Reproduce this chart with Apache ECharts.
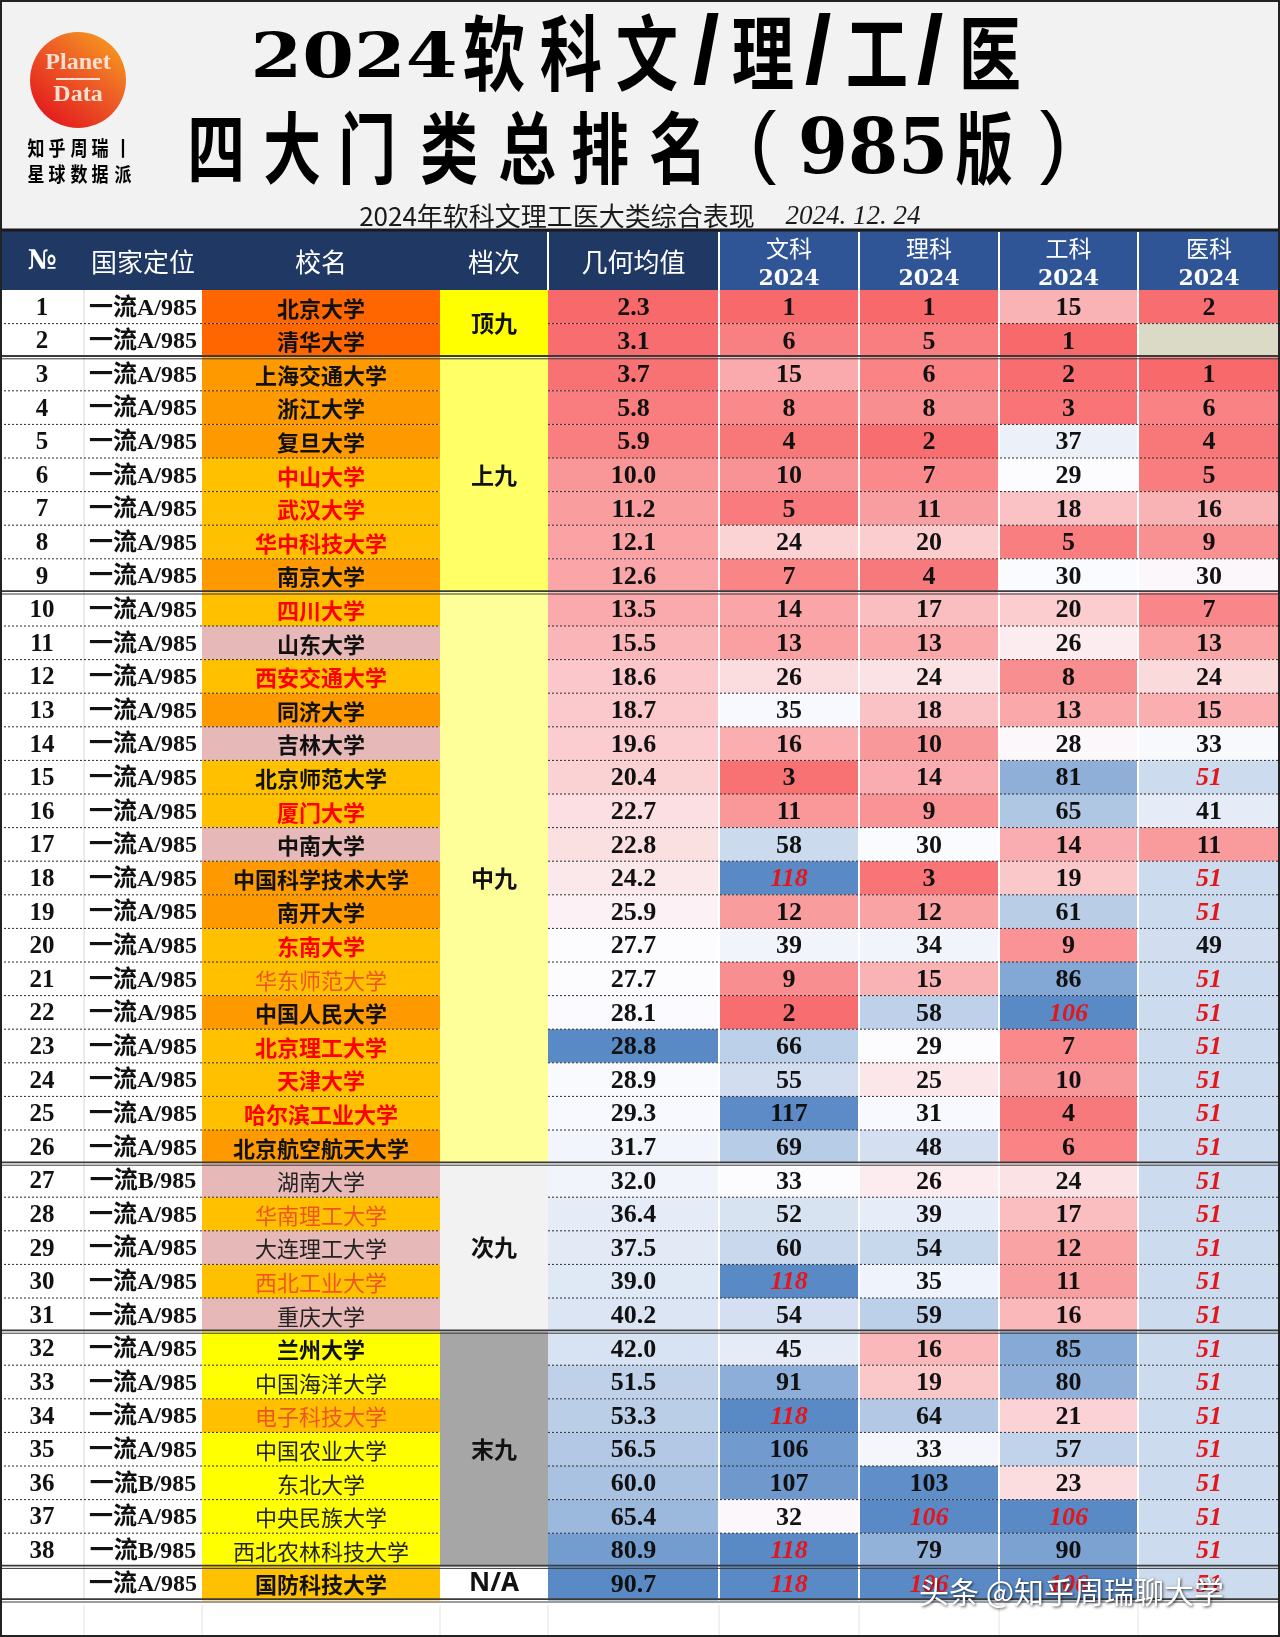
<!DOCTYPE html>
<html>
<head>
<meta charset="utf-8">
<script src="https://cdn.jsdelivr.net/npm/echarts@6/dist/echarts.min.js"></script>
<style>html,body{margin:0;padding:0;background:#fff}#c{width:1280px;height:1637px}</style>
</head>
<body>
<div id="c"></div>
<script>
// ---------------- DATA ----------------
const columnTitles = ['№', '国家定位', '校名', '档次', '几何均值', '文科', '理科', '工科', '医科'];
const subjectYear = '2024';
const titleLine1 = '2024软科文/理/工/医';
const titleLine2 = '四大门类总排名（985版）';
const subtitle = '2024年软科文理工医大类综合表现';
const subtitleDate = '2024. 12. 24';

const rowNo = ['1','2','3','4','5','6','7','8','9','10','11','12','13','14','15','16','17','18','19','20',
  '21','22','23','24','25','26','27','28','29','30','31','32','33','34','35','36','37','38',''];
const positioning = ['一流A/985','一流A/985','一流A/985','一流A/985','一流A/985','一流A/985','一流A/985','一流A/985','一流A/985',
  '一流A/985','一流A/985','一流A/985','一流A/985','一流A/985','一流A/985','一流A/985','一流A/985','一流A/985','一流A/985',
  '一流A/985','一流A/985','一流A/985','一流A/985','一流A/985','一流A/985','一流A/985',
  '一流B/985','一流A/985','一流A/985','一流A/985','一流A/985',
  '一流A/985','一流A/985','一流A/985','一流A/985','一流B/985','一流A/985','一流B/985','一流A/985'];
const schools = ['北京大学','清华大学','上海交通大学','浙江大学','复旦大学','中山大学','武汉大学','华中科技大学','南京大学',
  '四川大学','山东大学','西安交通大学','同济大学','吉林大学','北京师范大学','厦门大学','中南大学','中国科学技术大学','南开大学',
  '东南大学','华东师范大学','中国人民大学','北京理工大学','天津大学','哈尔滨工业大学','北京航空航天大学',
  '湖南大学','华南理工大学','大连理工大学','西北工业大学','重庆大学',
  '兰州大学','中国海洋大学','电子科技大学','中国农业大学','东北大学','中央民族大学','西北农林科技大学','国防科技大学'];
const schoolClass = ['deep','deep','orange','orange','orange','goldRed','goldRed','goldRed','orange',
  'goldRed','pinkBold','goldRed','orange','pinkBold','gold','goldRed','pinkBold','orange','orange',
  'goldRed','goldThin','orange','goldRed','goldRed','goldRed','orange',
  'pink','goldThin','pink','goldThin','pink',
  'yellowBold','yellow','goldThin','yellow','yellow','yellow','yellow','gold'];
const tierNames = ['顶九','上九','中九','次九','末九','N/A'];
const tierSizes = [2, 7, 17, 5, 7, 1];

const geoMean = [2.3,3.1,3.7,5.8,5.9,10.0,11.2,12.1,12.6,13.5,15.5,18.6,18.7,19.6,20.4,22.7,22.8,24.2,25.9,27.7,
  27.7,28.1,28.8,28.9,29.3,31.7,32.0,36.4,37.5,39.0,40.2,42.0,51.5,53.3,56.5,60.0,65.4,80.9,90.7];
const wenke = [1,6,15,8,4,10,5,24,7,14,13,26,35,16,3,11,58,118,12,39,9,2,66,55,117,69,33,52,60,118,54,45,91,118,106,107,32,118,118];
const like  = [1,5,6,8,2,7,11,20,4,17,13,24,18,10,14,9,30,3,12,34,15,58,29,25,31,48,26,39,54,35,59,16,19,64,33,103,106,79,106];
const gongke= [15,1,2,3,37,29,18,5,30,20,26,8,13,28,81,65,14,19,61,9,86,106,7,10,4,6,24,17,12,11,16,85,80,21,57,23,106,90,106];
const yike  = [2,null,1,6,4,5,16,9,30,7,13,24,15,33,51,41,11,51,51,49,51,51,51,51,51,51,51,51,51,51,51,51,51,51,51,51,51,51,51];
// placeholder rank shown in red italic for each subject column (文/理/工/医)
const unrankedValue = [118, 106, 106, 51];
// colour scale domains [low, mid, high] for 几何均值, 文科, 理科, 工科, 医科
const colorDomain = [[2.3, 27.7, 90.7], [1, 33, 118], [1, 29, 106], [1, 29, 106], [1, 31, 100]];
// manually highlighted cell: [row index, column index]
const highlightCells = [[22, 4]];

// ---------------- LAYOUT / STYLE ----------------
const W = 1280, H = 1637;
const COL_EDGES = [0, 84, 202, 440, 548, 719, 859, 999, 1138, 1280];
const BODY_TOP = 290, ROW_H = 33.6;
const nRows = schools.length;
const subjectCols = [wenke, like, gongke, yike];
const groupEnds = []; { let a = 0; tierSizes.forEach(s => { a += s; groupEnds.push(a - 1); }); }
const tierRanges = []; { let a = 0; tierSizes.forEach((s, i) => { tierRanges.push([a, a + s - 1, i]); a += s; }); }

const nameStyles = {
  deep:      { bg: '#FF6600', fill: '#111', weight: 'bold' },
  orange:    { bg: '#FF9900', fill: '#111', weight: 'bold' },
  goldRed:   { bg: '#FFC000', fill: '#FF0000', weight: 'bold' },
  gold:      { bg: '#FFC000', fill: '#111', weight: 'bold' },
  goldThin:  { bg: '#FFC000', fill: '#EE5522', weight: 'normal' },
  pinkBold:  { bg: '#E6B8B7', fill: '#111', weight: 'bold' },
  pink:      { bg: '#E6B8B7', fill: '#222', weight: 'normal' },
  yellowBold:{ bg: '#FFFF00', fill: '#111', weight: 'bold' },
  yellow:    { bg: '#FFFF00', fill: '#222', weight: 'normal' }
};
const tierColors = ['#FFFF00', '#FFFF66', '#FFFF99', '#F2F2F2', '#A6A6A6', '#FFFFFF'];
const HEAT = ['#F8696B', '#FCFCFF', '#5A8AC6'];
const SERIF = "'Liberation Serif','Noto Sans CJK SC',serif";
const CJK = "'Noto Sans CJK SC',sans-serif";

function hex2rgb(h) { return [1, 3, 5].map(i => parseInt(h.substr(i, 2), 16)); }
function mix(a, b, t) {
  const A = hex2rgb(a), B = hex2rgb(b);
  return 'rgb(' + A.map((v, i) => Math.round(v + (B[i] - v) * t)).join(',') + ')';
}
function heatColor(v, dom) {
  if (v == null) return '#DADAC6';
  const [lo, mid, hi] = dom;
  if (v <= mid) return mix(HEAT[0], HEAT[1], Math.max(0, Math.min(1, (v - lo) / (mid - lo))));
  return mix(HEAT[1], HEAT[2], Math.max(0, Math.min(1, (v - mid) / (hi - mid))));
}

// ---------------- SERIES DATA ----------------
const cellData = [];
for (let r = 0; r < nRows; r++) for (const c of [0, 1, 2, 4, 5, 6, 7, 8]) cellData.push([c, r]);
const lineData = []; for (let r = 0; r < nRows; r++) lineData.push([0, r]);
const vlineData = [[1, 0], [5, 0], [6, 0], [7, 0], [8, 0]];

function cellBox(api, c, r) {
  const xL = api.coord([COL_EDGES[c], r])[0];
  const xR = api.coord([COL_EDGES[c + 1], r])[0];
  const yc = api.coord([0, r])[1];
  const h = api.size([0, 1])[1];
  return { xL, xR, yc, h, yT: yc - h / 2 };
}

function renderCell(params, api) {
  const c = api.value(0), r = api.value(1);
  const b = cellBox(api, c, r);
  let bg = '#FFFFFF', text = '', fill = '#111', ff = SERIF, fs = 25, fw = 'bold', fst = 'normal';
  if (c === 0) { text = rowNo[r]; }
  else if (c === 1) { text = positioning[r]; fs = 24; }
  else if (c === 2) {
    const s = nameStyles[schoolClass[r]];
    bg = s.bg; fill = s.fill; fw = s.weight; text = schools[r]; ff = CJK; fs = 22;
  } else if (c === 4) {
    const v = geoMean[r];
    text = v.toFixed(1);
    bg = highlightCells.some(h => h[0] === r && h[1] === c) ? HEAT[2] : heatColor(v, colorDomain[0]);
    fs = 26;
  } else {
    const k = c - 5, v = subjectCols[k][r];
    bg = heatColor(v, colorDomain[k + 1]);
    text = v == null ? '' : String(v);
    fs = 26;
    if (v === unrankedValue[k]) { fill = '#E3161C'; fst = 'italic'; }
  }
  const children = [{ type: 'rect', shape: { x: b.xL, y: b.yT, width: b.xR - b.xL, height: b.h }, style: { fill: bg } }];
  if (text) children.push({
    type: 'text',
    style: { text, x: (b.xL + b.xR) / 2, y: b.yc + 1.5, align: 'center', verticalAlign: 'middle',
      fill, fontFamily: ff, fontSize: fs, fontWeight: fw, fontStyle: fst }
  });
  return { type: 'group', children };
}

function renderTier(params, api) {
  const r0 = api.value(0), r1 = api.value(1), i = api.value(2);
  const top = cellBox(api, 3, r0), bot = cellBox(api, 3, r1);
  const y0 = top.yT, y1 = bot.yT + bot.h;
  const name = tierNames[i];
  return {
    type: 'group', children: [
      { type: 'rect', shape: { x: top.xL, y: y0, width: top.xR - top.xL, height: y1 - y0 }, style: { fill: tierColors[i] } },
      { type: 'text', style: { text: name, x: (top.xL + top.xR) / 2, y: (y0 + y1) / 2, align: 'center', verticalAlign: 'middle',
        fill: '#111', fontFamily: name === 'N/A' ? "'Noto Sans',sans-serif" : CJK, fontSize: name === 'N/A' ? 26 : 23, fontWeight: 'bold' } }
    ]
  };
}

function renderLine(params, api) {
  const r = api.value(1);
  const b = cellBox(api, 0, r);
  const y = b.yT + b.h;
  const x0 = api.coord([0, r])[0], x3 = api.coord([COL_EDGES[3], r])[0], x4 = api.coord([COL_EDGES[4], r])[0], xe = api.coord([W, r])[0];
  if (groupEnds.indexOf(r) >= 0) {
    return { type: 'group', children: [
      { type: 'line', shape: { x1: x0, y1: y - 1.2, x2: xe, y2: y - 1.2 }, style: { stroke: '#3a3a3a', lineWidth: 1.8 } },
      { type: 'line', shape: { x1: x0, y1: y + 1.6, x2: xe, y2: y + 1.6 }, style: { stroke: '#3a3a3a', lineWidth: 1 } }
    ] };
  }
  const st = { stroke: '#2a2a2a', lineWidth: 1, lineDash: [2, 2] };
  return { type: 'group', children: [
    { type: 'line', shape: { x1: x0, y1: y, x2: x3, y2: y }, style: st },
    { type: 'line', shape: { x1: x4, y1: y, x2: xe, y2: y }, style: st }
  ] };
}

function renderVLine(params, api) {
  const e = api.value(0);
  const top = cellBox(api, 0, 0), bot = cellBox(api, 0, nRows - 1);
  const x = api.coord([COL_EDGES[e], 0])[0];
  return { type: 'line', shape: { x1: x, y1: top.yT, x2: x, y2: bot.yT + bot.h },
    style: e === 1 ? { stroke: '#d6d6d6', lineWidth: 1 } : { stroke: '#FFFFFF', lineWidth: 2 } };
}

// ---------------- GRAPHICS (header, titles) ----------------
const G = [];
function glyph(t, cx, cy, o) {
  return { type: 'text', x: cx, y: cy, scaleX: o.sx || 1, z: 10,
    style: { text: t, align: 'center', verticalAlign: 'middle', fill: o.fill || '#000', fontSize: o.fs,
      fontFamily: o.ff || CJK, fontWeight: o.fw || 'bold', fontStyle: o.fst || 'normal' } };
}
G.push({ type: 'rect', shape: { x: 0, y: 0, width: W, height: 230 }, style: { fill: '#F2F2F2' }, z: 1 });
// logo
G.push({ type: 'circle', shape: { cx: 78, cy: 80, r: 48 }, z: 5,
  style: { fill: { type: 'linear', x: 1, y: 0, x2: 0.2, y2: 1, colorStops: [
    { offset: 0, color: '#F9A81A' }, { offset: 0.45, color: '#EE6326' }, { offset: 1, color: '#E2171D' }] } } });
G.push(glyph('Planet', 78, 63, { fs: 24, ff: SERIF, fill: '#FBE0D2' }));
G.push({ type: 'line', shape: { x1: 56, y1: 79, x2: 100, y2: 79 }, style: { stroke: '#FBE0D2', lineWidth: 2 }, z: 10 });
G.push(glyph('Data', 78, 95, { fs: 24, ff: SERIF, fill: '#FBE0D2' }));
const logoL1 = ['知', '乎', '周', '瑞', '丨'], logoL2 = ['星', '球', '数', '据', '派'];
const logoX = [36, 57, 79, 100, 123];
logoL1.forEach((ch, i) => G.push(glyph(ch, logoX[i], 148, { fs: 20, sx: 0.85 })));
logoL2.forEach((ch, i) => G.push(glyph(ch, logoX[i], 174, { fs: 20, sx: 0.85 })));
// title line 1
const t1 = titleLine1;
G.push(glyph(t1.slice(0, 4), 354, 61, { fs: 62, ff: "'DejaVu Serif',serif", sx: 1.2 }));
const t1x = [494, 571, 647, 706, 763, 818, 877, 930, 990];
t1.slice(4).split('').forEach((ch, i) => {
  if (ch === '/') G.push(glyph(ch, t1x[i], 57, { fs: 96, ff: "'Liberation Sans',sans-serif", fw: 'bold' }));
  else G.push(glyph(ch, t1x[i], 53, { fs: 82, sx: 0.76 }));
});
// title line 2
const t2 = titleLine2;
const t2x = [216, 292, 367, 449, 527, 600, 678];
t2.slice(0, 7).split('').forEach((ch, i) => G.push(glyph(ch, t2x[i], 148, { fs: 78, sx: 0.74 })));
G.push(glyph('(', 763, 146, { fs: 80, ff: "'Liberation Sans',sans-serif", fw: 'normal' }));
G.push(glyph(t2.slice(8, 11), 873, 153, { fs: 76, ff: "'DejaVu Serif',serif", sx: 0.95 }));
G.push(glyph(t2.slice(11, 12), 984, 148, { fs: 78, sx: 0.74 }));
G.push(glyph(')', 1053, 146, { fs: 80, ff: "'Liberation Sans',sans-serif", fw: 'normal' }));
// subtitle
G.push(glyph(subtitle, 557, 216, { fs: 26, fw: 'normal', fill: '#1a1a1a' }));
G.push(glyph(subtitleDate, 853, 217, { fs: 27, ff: SERIF, fw: 'normal', fst: 'italic', fill: '#1a1a1a' }));
// header bar
G.push({ type: 'rect', shape: { x: 0, y: 230, width: COL_EDGES[5], height: 60 }, style: { fill: '#1F3864' }, z: 2 });
G.push({ type: 'rect', shape: { x: COL_EDGES[5], y: 230, width: W - COL_EDGES[5], height: 60 }, style: { fill: '#2F5597' }, z: 2 });
G.push({ type: 'line', shape: { x1: 0, y1: 230, x2: W, y2: 230 }, style: { stroke: '#1a1a1a', lineWidth: 3 }, z: 3 });
[4, 5, 6, 7, 8].forEach(e => G.push({ type: 'line', shape: { x1: COL_EDGES[e], y1: 232, x2: COL_EDGES[e], y2: 290 },
  style: { stroke: '#FFFFFF', lineWidth: 2 }, z: 3 }));
columnTitles.forEach((t, c) => {
  const cx = (COL_EDGES[c] + COL_EDGES[c + 1]) / 2;
  if (c < 5) {
    G.push(glyph(t, cx, 262, c === 0 ? { fs: 27, ff: "'DejaVu Serif',serif", fill: '#fff' } : { fs: 26, fw: 'normal', fill: '#fff' }));
  } else {
    G.push(glyph(t, cx, 248, { fs: 23, fw: 'normal', fill: '#fff' }));
    G.push(glyph(subjectYear, cx, 279, { fs: 22, ff: "'DejaVu Serif',serif", fill: '#fff' }));
  }
});
// empty row under the table
for (let e = 1; e < COL_EDGES.length - 1; e++)
  G.push({ type: 'line', shape: { x1: COL_EDGES[e], y1: 1605, x2: COL_EDGES[e], y2: 1635 }, style: { stroke: '#e2e2e2', lineWidth: 1 }, z: 3 });
// faint watermarks
const wmPos = [[455, 370], [760, 400], [1045, 370], [455, 830], [760, 860], [1045, 830], [455, 1260], [760, 1290], [1045, 1260]];
wmPos.forEach(p => G.push({ type: 'group', x: p[0], y: p[1], rotation: 0.62, z: 60, children: [
  { type: 'text', style: { text: '@知乎周瑞丨', x: 0, y: -22, align: 'center', verticalAlign: 'middle', fontSize: 32, fontWeight: 'bold', fontFamily: CJK, fill: 'rgba(110,110,110,0.10)' } },
  { type: 'text', style: { text: '公众号：星球数据派', x: 0, y: 22, align: 'center', verticalAlign: 'middle', fontSize: 32, fontWeight: 'bold', fontFamily: CJK, fill: 'rgba(110,110,110,0.10)' } }
] }));
G.push({ type: 'text', x: 919, y: 1592, z: 70, style: { text: '头条 @知乎周瑞聊大学', align: 'left', verticalAlign: 'middle',
  fontSize: 30, fontFamily: CJK, fill: '#FFFFFF', textShadowColor: 'rgba(0,0,0,0.75)', textShadowBlur: 3, textShadowOffsetX: 1, textShadowOffsetY: 1 } });
// outer frame
G.push({ type: 'rect', shape: { x: 1, y: 1, width: W - 2, height: H - 2 }, style: { fill: null, stroke: '#222', lineWidth: 2 }, z: 80 });

// ---------------- CHART ----------------
const chart = echarts.init(document.getElementById('c'), null, { renderer: 'canvas', width: W, height: H });
chart.setOption({
  animation: false,
  backgroundColor: '#FFFFFF',
  grid: { left: 0, top: BODY_TOP, width: W, height: ROW_H * nRows, containLabel: false, outerBoundsMode: 'none' },
  xAxis: { type: 'value', min: 0, max: W, show: false },
  yAxis: { type: 'category', inverse: true, show: false, data: schools.map((s, i) => String(i)) },
  series: [
    { type: 'custom', name: 'cells', z: 1, data: cellData, encode: { x: 0, y: 1 }, renderItem: renderCell, silent: true },
    { type: 'custom', name: 'tiers', z: 1, data: tierRanges, encode: { y: [0, 1] }, renderItem: renderTier, silent: true },
    { type: 'custom', name: 'vlines', z: 4, data: vlineData, encode: { x: 0, y: 1 }, renderItem: renderVLine, silent: true },
    { type: 'custom', name: 'rowlines', z: 5, data: lineData, encode: { x: 0, y: 1 }, renderItem: renderLine, silent: true }
  ],
  graphic: { elements: G }
});
</script>
</body>
</html>
